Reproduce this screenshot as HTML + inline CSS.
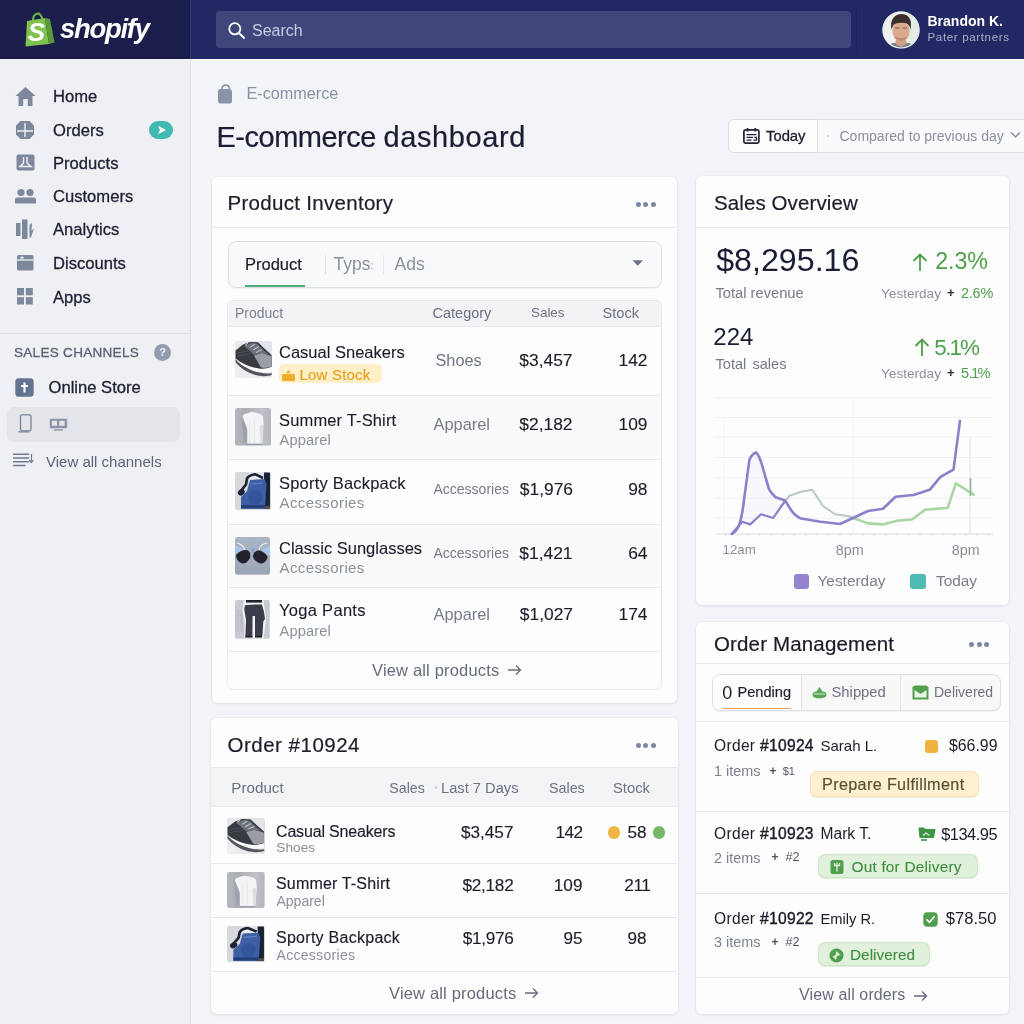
<!DOCTYPE html>
<html><head><meta charset="utf-8">
<style>
*{box-sizing:border-box;margin:0;padding:0}
html,body{width:1024px;height:1024px;overflow:hidden}
body{font-family:"Liberation Sans",sans-serif;background:#f3f4f7;position:relative;color:#1a1c2b}
.a{position:absolute}
.t{position:absolute;white-space:nowrap;line-height:1;transform:translateY(-50%);margin-top:-0.8px}
.m{-webkit-text-stroke:0.3px currentColor}
.r{text-align:right;transform:translate(-100%,-50%)}
.c{transform:translate(-50%,-50%)}
.card{position:absolute;background:#fdfdfd;border-radius:6px;box-shadow:0 0 0 1px rgba(60,66,87,.025),0 1px 3px rgba(60,66,87,.09)}
.hl{position:absolute;height:1px;background:#e9eaee}
.vl{position:absolute;width:1px;background:#e6e7eb}
.nav{font-size:16.6px;color:#1d2033;left:53px;margin-top:0}
.g{color:#8a8f9c}
.dk{color:#1b1d2a;-webkit-text-stroke:0.12px #1b1d2a}
.dot{position:absolute;width:5px;height:5px;border-radius:50%;background:#7d87a0}
.th{position:absolute;width:37px;height:37px;border-radius:3px;overflow:hidden;background:#d9dbdf}
#w{position:absolute;left:0;top:0;width:1024px;height:1024px;will-change:transform;transform:translateZ(0)}
</style></head><body><div id="w">

<!-- TOPBAR -->
<div class="a" style="left:0;top:0;width:1024px;height:59px;background:#212863"></div>
<div class="a" style="left:0;top:0;width:190px;height:59px;background:#1b1e4a"></div>
<div class="a" style="left:190px;top:0;width:1px;height:59px;background:#343a6e"></div>
<div class="a" style="left:216px;top:11px;width:635px;height:37px;border-radius:4px;background:#3f467b"></div>


<!-- logo -->
<svg class="a" style="left:24px;top:11px" width="32" height="37" viewBox="0 0 32 37">
  <path d="M9 9 C9 3 14 1.5 16 3.5 C18 5.5 18.5 8 18.5 10" fill="none" stroke="#6fb848" stroke-width="2"/>
  <path d="M3 10 L21 7 L25 33 L1.5 35.5 Z" fill="#7fc24d"/>
  <path d="M21 7 L26 8 L30.5 31.5 L25 33 Z" fill="#5a9a3a"/>
  <text x="12.3" y="29.8" font-family="Liberation Sans" font-weight="bold" font-style="italic" font-size="26" fill="#fff" text-anchor="middle">S</text>
</svg>
<div class="t" style="left:60px;top:30px;font-size:27.5px;font-weight:bold;font-style:italic;color:#fff;letter-spacing:-1.3px">shopify</div>
<!-- search -->
<svg class="a" style="left:227px;top:21px" width="19" height="19" viewBox="0 0 19 19"><circle cx="7.8" cy="7.8" r="5.6" fill="none" stroke="#fff" stroke-width="1.8"/><path d="M12 12 L17 17" stroke="#fff" stroke-width="1.9" stroke-linecap="round"/></svg>
<div class="t" style="left:252px;top:32px;font-size:16px;color:#c9cde2">Search</div>
<div class="a" style="left:861px;top:6px;width:1px;height:48px;background:#2a3068"></div>
<!-- avatar -->
<svg class="a" style="left:882px;top:11px" width="38" height="38" viewBox="0 0 38 38">
 <defs><clipPath id="av"><circle cx="19" cy="19" r="18.5"/></clipPath></defs>
 <g clip-path="url(#av)" filter="url(#bl)">
  <rect width="38" height="38" fill="#eef1ee"/>
  <rect x="26" y="0" width="12" height="38" fill="#e3ebe4"/>
  <path d="M5 38 C6 32 12 31.5 19 31.5 C26 31.5 32 32 33 38 Z" fill="#74828d"/>
  <path d="M14 28 L24 28 L24.5 33 L19 36 L13.5 33 Z" fill="#cf9f85"/>
  <ellipse cx="19" cy="20" rx="8.6" ry="10.8" fill="#dba98e"/>
  <path d="M9.5 19 C7.5 8 13 3 19.5 3 C26.5 3 30.5 8 28.5 19 C28 15 26.5 12.5 23 12 C18 11.5 13 12 11.5 14 C10.5 15.5 10 17.5 9.5 19 Z" fill="#3a2e2e"/>
  <path d="M13 17 H17.5 M20.5 17 H25" stroke="#7a5a4c" stroke-width="1.2"/>
  <path d="M12.5 25 C14.5 31.5 23.5 31.5 25.5 25 C23 28 15 28 12.5 25Z" fill="#b98b74"/>
 </g>
 <circle cx="19" cy="19" r="18" fill="none" stroke="#e9ecef" stroke-width="1.2"/>
</svg>
<div class="t" style="left:927.5px;top:21.5px;font-size:14px;font-weight:bold;color:#fff">Brandon K.</div>
<div class="t" style="left:927.5px;top:38px;font-size:11.6px;letter-spacing:0.62px;color:#a9aecb">Pater partners</div>

<!-- SIDEBAR -->
<div class="a" style="left:0;top:59px;width:190px;height:965px;background:#eff0f3"></div>
<div class="a" style="left:190px;top:59px;width:1px;height:965px;background:#e3e4e8"></div>


<!-- nav -->
<svg class="a" style="left:15px;top:86px" width="21" height="21" viewBox="0 0 21 21"><path d="M10.5 1 L20.5 10 L17.5 10 L17.5 20 L12.8 20 L12.8 13 L8.2 13 L8.2 20 L3.5 20 L3.5 10 L0.5 10 Z" fill="#7d889d"/></svg>
<div class="t m nav" style="top:96.5px">Home</div>
<svg class="a" style="left:15px;top:120px" width="20" height="20" viewBox="0 0 20 20"><path d="M5.5 1 H14.5 L19 5.5 V14.5 L14.5 19 H5.5 L1 14.5 V5.5 Z" fill="#7d889d"/><path d="M10 3 V17 M2 11 H18" stroke="#eff0f3" stroke-width="1.4"/></svg>
<div class="t m nav" style="top:130.5px">Orders</div>
<div class="a" style="left:149px;top:121px;width:24px;height:18px;border-radius:9px;background:#41b9b0"></div>
<svg class="a" style="left:157px;top:125px" width="10" height="10" viewBox="0 0 10 10"><path d="M1 0.8 L9 5 L1 9.2 L3 5 Z" fill="#fff"/></svg>
<svg class="a" style="left:16px;top:154px" width="19" height="17" viewBox="0 0 19 17"><rect x="0.5" y="0.5" width="18" height="16" rx="2" fill="#7d889d"/><path d="M7.5 3 V9 L4 12.5 H15 L11 9 V3" fill="none" stroke="#eff0f3" stroke-width="1.5"/></svg>
<div class="t m nav" style="top:164px">Products</div>
<svg class="a" style="left:15px;top:188px" width="21" height="16" viewBox="0 0 21 16"><circle cx="6" cy="4.5" r="3.6" fill="#7d889d"/><circle cx="15" cy="4.5" r="3.6" fill="#7d889d"/><path d="M0 15.5 V11.5 Q0 9.5 2 9.5 H19 Q21 9.5 21 11.5 V15.5 Z" fill="#7d889d"/></svg>
<div class="t m nav" style="top:196.8px">Customers</div>
<svg class="a" style="left:16px;top:219px" width="20" height="21" viewBox="0 0 20 21"><rect x="0" y="4" width="4.5" height="13" fill="#7d889d"/><rect x="6" y="0.5" width="5.5" height="19.5" fill="#7d889d"/><path d="M13.5 6 L16 4 L15.5 12 L18 9 L15 18.5 L13.5 18.5 Z" fill="#7d889d"/></svg>
<div class="t m nav" style="top:230px">Analytics</div>
<svg class="a" style="left:17px;top:255px" width="17" height="16" viewBox="0 0 17 16"><rect x="0" y="0" width="16.5" height="15.5" rx="1.5" fill="#7d889d"/><path d="M0 5 H16.5" stroke="#eff0f3" stroke-width="1.3"/><rect x="3.5" y="1.6" width="3" height="2" fill="#eff0f3"/></svg>
<div class="t m nav" style="top:264.2px">Discounts</div>
<svg class="a" style="left:17px;top:288px" width="16" height="17" viewBox="0 0 16 17"><rect x="0" y="0" width="7" height="7.3" fill="#7d889d"/><rect x="8.8" y="0" width="7" height="7.3" fill="#7d889d"/><rect x="0" y="9.2" width="7" height="7.3" fill="#7d889d"/><rect x="8.8" y="9.2" width="7" height="7.3" fill="#7d889d"/></svg>
<div class="t m nav" style="top:298px">Apps</div>
<div class="hl" style="left:0;top:333px;width:190px;background:#dfe1e6"></div>
<div class="t m" style="left:14px;top:353.5px;font-size:13.5px;letter-spacing:0.3px;color:#596176">SALES CHANNELS</div>
<div class="a" style="left:154px;top:344px;width:17px;height:17px;border-radius:50%;background:#939bb0"></div>
<div class="t c" style="left:162.5px;top:352.5px;font-size:11px;font-weight:bold;color:#eff0f3">?</div>
<svg class="a" style="left:15px;top:378px" width="19" height="19" viewBox="0 0 19 19"><rect x="0.3" y="0.3" width="18.4" height="18.4" rx="3.5" fill="#64738f"/><path d="M9.5 4.5 V14.5 M6 8 H13" stroke="#fff" stroke-width="2.2"/></svg>
<div class="t m" style="left:48.5px;top:388.7px;font-size:16.6px;color:#1d2033">Online Store</div>
<div class="a" style="left:7px;top:407px;width:173px;height:35px;border-radius:7px;background:#e4e5e9"></div>
<svg class="a" style="left:18px;top:414px" width="15" height="19" viewBox="0 0 15 19"><rect x="2.5" y="0.8" width="10.5" height="16" rx="1.5" fill="none" stroke="#76829b" stroke-width="1.3"/><path d="M0.8 17.8 H11" stroke="#76829b" stroke-width="1.3" stroke-linecap="round"/></svg>
<svg class="a" style="left:49px;top:418px" width="19" height="13" viewBox="0 0 19 13"><rect x="0.8" y="0.8" width="17.4" height="9.4" rx="1" fill="#8a95ab"/><rect x="3" y="2.8" width="5" height="5" fill="#e4e5e9"/><rect x="10.2" y="2.8" width="5.4" height="5" fill="#e4e5e9"/><path d="M5 12 H14" stroke="#8a95ab" stroke-width="1.4"/></svg>
<svg class="a" style="left:13px;top:453px" width="21" height="14" viewBox="0 0 21 14"><path d="M0.5 1.2 H15.5 M0.5 5 H15.5 M0.5 8.8 H15.5 M0.5 12.6 H12" stroke="#6f7b95" stroke-width="1.5" stroke-linecap="round"/><path d="M18.5 1 V9 M16.3 7 L18.5 9.5 L20.5 7" fill="none" stroke="#6f7b95" stroke-width="1.2"/></svg>
<div class="t" style="left:46px;top:461.5px;font-size:15px;color:#5b6479">View all channels</div>


<svg width="0" height="0" style="position:absolute"><defs>
<filter id="bl" x="-5%" y="-5%" width="110%" height="110%"><feGaussianBlur stdDeviation="0.35"/></filter>
<linearGradient id="gshoe" x1="0" y1="1" x2="1" y2="0"><stop offset="0" stop-color="#efeff1"/><stop offset="1" stop-color="#e1e2e6"/></linearGradient>
<linearGradient id="gtee" x1="0" y1="0" x2="1" y2="0"><stop offset="0" stop-color="#b4b7be"/><stop offset="0.3" stop-color="#a9acb4"/><stop offset="0.75" stop-color="#bfc2c8"/><stop offset="1" stop-color="#b3b6bd"/></linearGradient>
<linearGradient id="gsun" x1="0" y1="0" x2="0" y2="1"><stop offset="0" stop-color="#a9b4c5"/><stop offset="0.6" stop-color="#a3adbd"/><stop offset="1" stop-color="#99a3b3"/></linearGradient>
<symbol id="shoe" preserveAspectRatio="none" viewBox="0 0 37 37"><rect width="37" height="37" fill="url(#gshoe)"/><g filter="url(#bl)">
<path d="M0.5 21 C6 28 14 33 24 34.8 C29 35.6 34 35 36.8 34 L36.8 32.2 C30 33 22 32 14 28 C8 25 3 21 0.5 18Z" fill="#55575d"/>
<path d="M0.5 17.5 C5 24 13 28.5 24 30.8 C29 31.8 34 31 36.8 30 L36.8 27 L20 26 L0.5 13Z" fill="#fbfbfc"/>
<path d="M0.5 9.5 L8 3.5 L15 1 L23 1.2 L30 8 L36.5 14 L36.7 25.5 C33 27.5 28 28 24 27.5 C14 26 6 22 0.5 17.5Z" fill="#383b43"/>
<path d="M19 14.5 L27 12 L36.3 15 L36.6 25.3 C33 27 29 27.4 26 26.6Z" fill="#9a9ea6"/>
<path d="M9 5 L16 2 L22 2.5 L28 9 L34 13.5 L27 12 L19 14 L14 9Z" fill="#6d727c"/>
<path d="M10 4.5 L13 2 M15 6.5 L20 3 M18 9 L24 5.5 M21 11.5 L27 8.5" stroke="#c9ccd3" stroke-width="1"/>
<path d="M2 12 L14 10 M3 15 L16 12.5" stroke="#50535c" stroke-width="0.8"/>
</g></symbol>
<symbol id="tee" preserveAspectRatio="none" viewBox="0 0 36 37.5"><rect width="36" height="37.5" fill="url(#gtee)"/><g filter="url(#bl)">
<path d="M6.5 9 L9 33 L13 36 L13 22Z" fill="#9ea1a9"/>
<path d="M12 35.8 L27.5 35.8 L27.5 36.8 L12 36.8Z" fill="#94979f"/>
<path d="M7.5 8 C8.5 6 12 5 15.5 4.2 Q17 3 18 4.2 C22 4.6 26.5 5.5 28 8.5 L28.5 16 L27.3 35.5 L12.2 35.5 L12.3 22 C11 16 8.5 12 7.5 8Z" fill="#f3f4f6"/>
<path d="M24.5 18 L25.5 35.5 L27.3 35.5 L28.3 16Z" fill="#dcdee2"/>
<path d="M15 12 L14.5 35 M19.5 10 L19.5 35" stroke="#e6e7ea" stroke-width="0.9"/>
</g></symbol>
<symbol id="pack" preserveAspectRatio="none" viewBox="0 0 35.5 38"><rect width="35.5" height="38" fill="#d6d8dc"/><rect x="14" y="0" width="21" height="10" fill="#e3e4e7"/><g filter="url(#bl)">
<rect x="29" y="0.5" width="6" height="36.5" fill="#1a2036"/><rect x="29" y="34" width="6" height="3" fill="#5d4e4d"/>
<path d="M15 8 L29.5 7 L31.5 12 L30 36.6 L6 36.6 L6 25 L12 19Z" fill="#3d60a4"/>
<path d="M14 22 C16 17 26 17 27 24 C28 31 22 34 17 32 C13 30 13 25 14 22Z" fill="#34549a"/>
<path d="M6 33 L30 33 L30 36.6 L6 36.6Z" fill="#243f7c"/>
<path d="M16 12 L28 11" stroke="#5f82c4" stroke-width="1.2"/>
<path d="M16 5.6 L26 6.6" stroke="#f0f1f3" stroke-width="1.4"/>
<path d="M5 20 L11 12.5 L12 6.5 Q14 3 20 2.2 L28 6" fill="none" stroke="#1c2030" stroke-width="2.6" stroke-linejoin="round"/>
<ellipse cx="6.3" cy="20.3" rx="3.6" ry="2.9" transform="rotate(-35 6.3 20.3)" fill="#1c2030"/>
</g></symbol>
<symbol id="sun" preserveAspectRatio="none" viewBox="0 0 35 37.7"><rect width="35" height="37.7" fill="url(#gsun)"/><g filter="url(#bl)">
<path d="M0 8 L8 12 L1 17 L0 17Z" fill="#a6c4ea"/><path d="M35 9 L26 13 L33 18 L35 18Z" fill="#a9c5e9"/>
<path d="M16 12 L20 10 L18 17Z" fill="#7fa3d8"/>
<path d="M1 18 Q6 12.5 12 13 Q16.5 15 15 21 Q12 27 7 26.5 Q1 24 1 18Z" fill="#22242e"/>
<path d="M18 19 Q19 13 25 13.5 Q32 16 32.5 21 Q30 27 25 26.5 Q18.5 24 18 19Z" fill="#22242e"/>
<path d="M2 6 Q7 7.5 9 11 L9.6 13" fill="none" stroke="#f2f3f5" stroke-width="1.1"/>
<path d="M32.5 6 Q26.5 7 24.7 10.5 L24.4 13" fill="none" stroke="#f2f3f5" stroke-width="1.1"/>
</g></symbol>
<symbol id="yoga" preserveAspectRatio="none" viewBox="0 0 34.6 38.5"><rect width="34.6" height="38.5" fill="#c8cbd1"/><rect x="0" y="10" width="8" height="22" fill="#c0c3ca"/><g filter="url(#bl)">
<path d="M9 0 L28.5 0 L30 12 L31 20 L28.5 38.5 L9.5 38.5 L9.5 22 L7.5 10Z" fill="#f3f4f6"/>
<path d="M5 14 L7 19 L6 22 L8 26" fill="none" stroke="#aeb2ba" stroke-width="0.9"/>
<rect x="11" y="0" width="16" height="2.6" fill="#1f2129"/>
<path d="M10 5.2 Q18 4 27 4.6 L29 12 L30 19 L28.3 21.5 L27.4 36 L26.8 37.6 L20 37.6 L20 16 L17.6 16 L17.4 37.6 L10.4 37.6 L11 20 L9.2 9Z" fill="#3a3d4b"/>
<path d="M10.3 36.5 H17.4 M20 36.5 H26.9" stroke="#1f2129" stroke-width="1.6"/>
</g></symbol>
</defs></svg>

<!-- breadcrumb & title -->
<svg class="a" style="left:217px;top:84px" width="16" height="20" viewBox="0 0 16 20"><path d="M5 5 C5 -0.2 12.5 -0.2 12.5 5" fill="none" stroke="#8a94a8" stroke-width="1.6"/><path d="M1 7.5 Q1 5 3.5 5 H12 Q15 5 15 8 V17 Q15 19.5 12.5 19.5 H3.5 Q1 19.5 1 17Z" fill="#8a94a8"/></svg>
<div class="t" style="left:246.5px;top:93.5px;font-size:16.2px;color:#8891a4">E-commerce</div>
<div class="t" style="left:216.5px;top:138px;font-size:29px;color:#1a1d33;-webkit-text-stroke:0.2px #1a1d33"><span style="letter-spacing:-0.5px">E-commerce </span><span style="letter-spacing:0.62px">dashboard</span></div>
<!-- today -->
<div class="a" style="left:728px;top:119px;width:90px;height:34px;background:#fdfdfd;border:1px solid #d9dbe1;border-radius:6px 0 0 6px"></div>
<div class="a" style="left:817px;top:119px;width:215px;height:34px;background:#f9fafb;border:1px solid #e1e3e8"></div>
<svg class="a" style="left:743px;top:128px" width="17" height="16" viewBox="0 0 17 16"><rect x="0.9" y="1.9" width="15" height="13.2" rx="1.6" fill="none" stroke="#22253a" stroke-width="1.7"/><path d="M4.5 0 V3.5 M12.3 0 V3.5" stroke="#22253a" stroke-width="1.7"/><path d="M3.5 6.6 H13.5 M3.5 9.4 H10 M3.5 12.2 H8.5 M11.3 9.4 H13.5 V12.2 H10.5" fill="none" stroke="#22253a" stroke-width="1.3"/></svg>
<div class="t" style="left:766px;top:137px;font-size:14.8px;color:#1b1d2e;-webkit-text-stroke:0.3px #1b1d2e">Today</div>
<div class="a" style="left:827px;top:135px;width:2px;height:2px;border-radius:50%;background:#c9ccd5"></div>
<div class="t" style="left:839.5px;top:137px;font-size:14px;color:#8a90a1">Compared to previous day</div>
<svg class="a" style="left:1010px;top:131px" width="11" height="8" viewBox="0 0 11 8"><path d="M1.2 1.5 L5.5 6 L9.8 1.5" fill="none" stroke="#8a90a1" stroke-width="1.5"/></svg>

<!-- PRODUCT INVENTORY -->
<div class="card" style="left:212px;top:177px;width:465px;height:526px"></div>
<div class="t" style="left:227.5px;top:203.5px;font-size:20.5px;letter-spacing:0.3px;color:#1b1d2a;-webkit-text-stroke:0.2px #1b1d2a">Product Inventory</div>
<div class="dot" style="left:635.5px;top:201.5px"></div><div class="dot" style="left:643px;top:201.5px"></div><div class="dot" style="left:650.5px;top:201.5px"></div>
<div class="hl" style="left:212px;top:226.5px;width:465px"></div>
<div class="a" style="left:227.5px;top:240.5px;width:434.5px;height:47.5px;border:1px solid #dcdee3;border-radius:8px;background:#f8f9fa;box-shadow:0 1px 1px rgba(0,0,0,.04)"></div>
<div class="t" style="left:245px;top:264.8px;font-size:16.5px;color:#1b1d2a;-webkit-text-stroke:0.2px">Product</div>
<div class="a" style="left:244.5px;top:285px;width:60px;height:2px;background:#4dae7c"></div>
<div class="vl" style="left:324.5px;top:255px;height:19px;background:#dfe1e6"></div>
<div class="t" style="left:333.5px;top:265.6px;font-size:17.5px;color:#8b91a1">Typs<span style="font-size:10px;position:relative;top:-1px">:</span></div>
<div class="vl" style="left:383px;top:255px;height:19px;background:#e6e8ec"></div>
<div class="t" style="left:394.5px;top:266px;font-size:17.5px;color:#8b91a1">Ads</div>
<svg class="a" style="left:632px;top:260px" width="12" height="6" viewBox="0 0 12 6"><path d="M0.5 0.3 H11 L5.75 5.8Z" fill="#68728b"/></svg>
<!-- table -->
<div class="a" style="left:226.5px;top:300px;width:435.5px;height:390px;border:1px solid #e8e9ed;border-radius:6px;background:#fdfdfd;overflow:hidden">
  <div class="a" style="left:0;top:0;width:100%;height:25.5px;background:#f2f3f5"></div>
  <div class="a" style="left:0;top:94.5px;width:100%;height:64px;background:#fafafb"></div>
  <div class="a" style="left:0;top:222.5px;width:100%;height:64px;background:#fafafb"></div>
</div>
<div class="t" style="left:235px;top:313.5px;font-size:14px;color:#7c8291">Product</div>
<div class="t" style="left:432.5px;top:313.5px;font-size:14.5px;color:#6c7282">Category</div>
<div class="t" style="left:531px;top:313.5px;font-size:13.4px;color:#6c7282">Sales</div>
<div class="t" style="left:602.5px;top:313.5px;font-size:14.6px;color:#6c7282">Stock</div>
<div class="hl" style="left:227px;top:326px;width:434px"></div>
<div class="hl" style="left:227px;top:395px;width:434px"></div>
<div class="hl" style="left:227px;top:459px;width:434px"></div>
<div class="hl" style="left:227px;top:523.5px;width:434px"></div>
<div class="hl" style="left:227px;top:587px;width:434px"></div>
<div class="hl" style="left:227px;top:650.5px;width:434px"></div>
<!-- row1 -->
<svg class="th" style="left:235px;top:341.2px;width:37px;height:37px"><use href="#shoe"/></svg>
<div class="t" style="left:279px;top:352.3px;font-size:16.5px;-webkit-text-stroke:0.1px" >Casual Sneakers</div>
<div class="a" style="left:278.5px;top:364px;width:103px;height:19px;border-radius:5px;background:#fdf0c9"></div>
<svg class="a" style="left:282px;top:369px" width="13" height="12" viewBox="0 0 13 12"><rect x="0" y="5" width="13" height="7" rx="1.3" fill="#efac2f"/><path d="M4 4 L6.5 1 L9 4Z" fill="#efac2f"/></svg>
<div class="t" style="left:299.5px;top:375px;font-size:15px;letter-spacing:0.2px;color:#e7a321;-webkit-text-stroke:0.2px #e7a321">Low Stock</div>
<div class="t g" style="left:435.5px;top:361px;font-size:16.3px;color:#6e7483">Shoes</div>
<div class="t r dk" style="left:572.5px;top:361.6px;font-size:17.4px">$3,457</div>
<div class="t r dk" style="left:647.5px;top:361.6px;font-size:17.4px">142</div>
<!-- row2 -->
<svg class="th" style="left:235px;top:408px;width:36px;height:37.5px"><use href="#tee"/></svg>
<div class="t" style="left:279px;top:420.3px;font-size:16.5px;letter-spacing:0.15px;-webkit-text-stroke:0.1px">Summer T-Shirt</div>
<div class="t g" style="left:279.5px;top:440.5px;font-size:14.6px;letter-spacing:0.15px">Apparel</div>
<div class="t g" style="left:433.5px;top:424.5px;font-size:16.4px;color:#757b8a">Apparel</div>
<div class="t r dk" style="left:572.5px;top:426.1px;font-size:17.4px">$2,182</div>
<div class="t r dk" style="left:647.5px;top:426.1px;font-size:17.4px">109</div>
<!-- row3 -->
<svg class="th" style="left:235px;top:472px;width:35.5px;height:38px"><use href="#pack"/></svg>
<div class="t" style="left:279px;top:483.5px;font-size:16.5px;letter-spacing:0.2px;-webkit-text-stroke:0.1px">Sporty Backpack</div>
<div class="t g" style="left:279.5px;top:502.3px;font-size:15px;letter-spacing:0.4px">Accessories</div>
<div class="t g" style="left:433.5px;top:490.2px;font-size:14px;color:#757b8a">Accessories</div>
<div class="t r dk" style="left:573px;top:490.6px;font-size:17.4px">$1,976</div>
<div class="t r dk" style="left:647.5px;top:490.6px;font-size:17.4px">98</div>
<!-- row4 -->
<svg class="th" style="left:235px;top:537px;width:35px;height:37.7px"><use href="#sun"/></svg>
<div class="t" style="left:279px;top:548.3px;font-size:16.5px;-webkit-text-stroke:0.1px">Classic Sunglasses</div>
<div class="t g" style="left:279.5px;top:567.3px;font-size:15px;letter-spacing:0.4px">Accessories</div>
<div class="t g" style="left:433.5px;top:554px;font-size:14px;color:#757b8a">Accessories</div>
<div class="t r dk" style="left:572.5px;top:554.6px;font-size:17.4px">$1,421</div>
<div class="t r dk" style="left:647.5px;top:554.6px;font-size:17.4px">64</div>
<!-- row5 -->
<svg class="th" style="left:235px;top:600px;width:34.6px;height:38.5px"><use href="#yoga"/></svg>
<div class="t" style="left:279px;top:610.5px;font-size:16.5px;letter-spacing:0.3px;-webkit-text-stroke:0.1px">Yoga Pants</div>
<div class="t g" style="left:279.5px;top:632px;font-size:14.6px;letter-spacing:0.15px">Apparel</div>
<div class="t g" style="left:433.5px;top:615px;font-size:16.4px;color:#757b8a">Apparel</div>
<div class="t r dk" style="left:573px;top:616.1px;font-size:17.4px">$1,027</div>
<div class="t r dk" style="left:647.5px;top:616.1px;font-size:17.4px">174</div>
<div class="t" style="left:372px;top:670.3px;font-size:16.5px;letter-spacing:0.17px;color:#656b7b">View all products</div>
<svg class="a" style="left:507px;top:664px" width="15" height="12" viewBox="0 0 15 12"><path d="M1 6 H13.5 M9 1.5 L13.5 6 L9 10.5" fill="none" stroke="#656b7b" stroke-width="1.3"/></svg>


<!-- ORDER CARD -->
<div class="card" style="left:211px;top:718px;width:466.5px;height:296px;overflow:hidden">
  <div class="a" style="left:0;top:49px;width:100%;height:39.5px;background:#f3f4f6"></div>
</div>
<div class="t" style="left:227.5px;top:745.8px;font-size:20.5px;letter-spacing:0.5px;color:#1b1d2a;-webkit-text-stroke:0.2px #1b1d2a">Order #10924</div>
<div class="dot" style="left:635.5px;top:742.5px"></div><div class="dot" style="left:643px;top:742.5px"></div><div class="dot" style="left:650.5px;top:742.5px"></div>
<div class="hl" style="left:211px;top:767px;width:466px"></div>
<div class="hl" style="left:211px;top:806px;width:466px"></div>
<div class="t" style="left:231.3px;top:788.8px;font-size:15.2px;color:#6c7282">Product</div>
<div class="t" style="left:389.3px;top:788.8px;font-size:14.2px;color:#6c7282">Sales</div>
<div class="a" style="left:435px;top:786px;width:1.5px;height:3px;border-radius:50%;background:#c9ccd5"></div>
<div class="t" style="left:441px;top:788.8px;font-size:14.7px;color:#6c7282">Last 7 Days</div>
<div class="t" style="left:549px;top:788.8px;font-size:14.3px;color:#6c7282">Sales</div>
<div class="t" style="left:613px;top:788.8px;font-size:14.8px;color:#6c7282">Stock</div>
<svg class="th" style="left:227px;top:818px;width:37.5px;height:36px"><use href="#shoe"/></svg>
<div class="t" style="left:276px;top:832.6px;font-size:16px;letter-spacing:-0.17px;-webkit-text-stroke:0.15px">Casual Sneakers</div>
<div class="t g" style="left:276.3px;top:848.8px;font-size:13.7px">Shoes</div>
<div class="t r dk" style="left:513.5px;top:833.5px;font-size:17.2px">$3,457</div>
<div class="t r dk" style="left:582.5px;top:833.5px;font-size:17.2px;letter-spacing:-0.6px">142</div>
<div class="a" style="left:607.5px;top:826.2px;width:12.8px;height:12.8px;border-radius:50%;background:#f0b445"></div>
<div class="t dk" style="left:627.5px;top:833.5px;font-size:17.2px">58</div>
<div class="a" style="left:652.5px;top:826.2px;width:12.8px;height:12.8px;border-radius:50%;background:#74b868"></div>
<div class="hl" style="left:211px;top:862.5px;width:466px"></div>
<svg class="th" style="left:227px;top:872px;width:37.5px;height:36px"><use href="#tee"/></svg>
<div class="t" style="left:276px;top:884.3px;font-size:16px;letter-spacing:0.17px;-webkit-text-stroke:0.15px">Summer T-Shirt</div>
<div class="t g" style="left:276.5px;top:902.1px;font-size:14px">Apparel</div>
<div class="t r dk" style="left:513.5px;top:887.0px;font-size:17.2px;letter-spacing:-0.25px">$2,182</div>
<div class="t r dk" style="left:582.5px;top:887.0px;font-size:17.2px">109</div>
<div class="t r dk" style="left:650.5px;top:887.0px;font-size:17.2px;letter-spacing:-0.4px">211</div>
<div class="hl" style="left:211px;top:917px;width:466px"></div>
<svg class="th" style="left:227px;top:926px;width:37.5px;height:36px"><use href="#pack"/></svg>
<div class="t" style="left:276px;top:938.6px;font-size:16px;letter-spacing:0.27px;-webkit-text-stroke:0.15px">Sporty Backpack</div>
<div class="t g" style="left:276.5px;top:956.2px;font-size:14px;letter-spacing:0.3px">Accessories</div>
<div class="t r dk" style="left:513.5px;top:940.2px;font-size:17.2px;letter-spacing:-0.3px">$1,976</div>
<div class="t r dk" style="left:582.5px;top:940.2px;font-size:17.2px">95</div>
<div class="t r dk" style="left:646.5px;top:940.2px;font-size:17.2px">98</div>
<div class="hl" style="left:211px;top:971px;width:466px"></div>
<div class="t" style="left:389px;top:993.6px;font-size:16.5px;letter-spacing:0.17px;color:#656b7b">View all products</div>
<svg class="a" style="left:524px;top:987px" width="15" height="12" viewBox="0 0 15 12"><path d="M1 6 H13.5 M9 1.5 L13.5 6 L9 10.5" fill="none" stroke="#656b7b" stroke-width="1.3"/></svg>

<!-- SALES OVERVIEW -->
<div class="card" style="left:696px;top:176px;width:313px;height:429px"></div>
<div class="t" style="left:714px;top:203.5px;font-size:20.5px;letter-spacing:0.1px;color:#1b1d2a;-webkit-text-stroke:0.2px #1b1d2a">Sales Overview</div>
<div class="hl" style="left:696px;top:226.5px;width:313px"></div>
<div class="t" style="left:716.2px;top:261px;font-size:32.2px;color:#1a1d33">$8,295.16</div>
<div class="t" style="left:715.5px;top:293.3px;font-size:14.7px;color:#757b8a">Total revenue</div>
<svg class="a" style="left:912px;top:252.5px" width="16" height="19" viewBox="0 0 16 19"><path d="M8 18 V2 M1.5 8 L8 1.5 L14.5 8" fill="none" stroke="#4fa04b" stroke-width="1.8"/></svg>
<div class="t r" style="left:988px;top:263px;font-size:23.2px;color:#4fa04b">2.3%</div>
<div class="t" style="left:881px;top:294.3px;font-size:13.6px;color:#8a8f9c">Yesterday</div>
<div class="t" style="left:947px;top:292.5px;font-size:13px;color:#2a2d3c;font-weight:bold">+</div>
<div class="t r" style="left:993px;top:293.5px;font-size:14.4px;letter-spacing:-0.2px;color:#4fa04b">2.6%</div>
<div class="t" style="left:713.3px;top:337.3px;font-size:24px;color:#1a1d33">224</div>
<div class="t" style="left:715.5px;top:365.2px;font-size:14.6px;color:#757b8a;word-spacing:2px">Total sales</div>
<svg class="a" style="left:914px;top:338px" width="16" height="19" viewBox="0 0 16 19"><path d="M8 18 V2 M1.5 8 L8 1.5 L14.5 8" fill="none" stroke="#4fa04b" stroke-width="1.8"/></svg>
<div class="t r" style="left:978.7px;top:348.3px;font-size:22.5px;letter-spacing:-1.4px;color:#4fa04b">5<span style="letter-spacing:-2px">.1</span>%</div>
<div class="t" style="left:881px;top:374.5px;font-size:13.6px;color:#8a8f9c">Yesterday</div>
<div class="t" style="left:947px;top:373px;font-size:13px;color:#2a2d3c;font-weight:bold">+</div>
<div class="t r" style="left:990px;top:374px;font-size:14.6px;letter-spacing:-0.6px;color:#4fa04b">5<span style="letter-spacing:-1.6px">.1</span>%</div>
<!-- chart -->
<svg class="a" style="left:696px;top:390px" width="313" height="215" viewBox="696 390 313 215">
 <g stroke="#eeeff2" stroke-width="0.9">
  <path d="M714 398 H993 M714 417.5 H993 M714 437 H993 M714 457.5 H993 M714 478 H993 M714 498 H993 M714 518 H993"/>
  <path d="M853 398 V534 M724 417.5 V534" stroke="#f0f1f3"/>
 </g>
 <path d="M970 437 V534" stroke="#dfe1e5" stroke-width="1"/>
 <path d="M716 534 H993" stroke="#d9dbe0" stroke-width="1.2"/><path d="M725.4 534 V536.5 M736.9 534 V536.5 M748.3 534 V536.5 M759.8 534 V536.5 M771.2 534 V536.5 M782.6 534 V536.5 M794.1 534 V536.5 M805.5 534 V536.5 M817.0 534 V536.5 M828.4 534 V536.5 M839.9 534 V536.5 M851.3 534 V536.5 M862.8 534 V536.5 M874.2 534 V536.5 M885.7 534 V536.5 M897.1 534 V536.5 M908.6 534 V536.5 M920.0 534 V536.5 M931.5 534 V536.5 M942.9 534 V536.5 M954.4 534 V536.5 M965.8 534 V536.5 M977.3 534 V536.5 M988.8 534 V536.5" stroke="#d9dbe0" stroke-width="0.8"/>
 <path d="M773 518 L789.5 495.7 L801 491.8 L812.3 489.8 L823 506 L835 514.3 L848 516 L853 518" fill="none" stroke="#b9c7c8" stroke-width="2" stroke-linejoin="round"/>
 <path d="M853 518 L868 523.4 L883 524.4 L897 520.8 L912 519.5 L925 509.7 L947.7 507.8 L955.8 483.3 L973.8 494.7" fill="none" stroke="#a9d6a3" stroke-width="2.6" stroke-linejoin="round" stroke-linecap="round"/>
 <path d="M731.7 534 L742.2 521.8 L750.3 524.4 L761 514.3 L773.2 518 L785.2 500.6" fill="none" stroke="#8f7fcb" stroke-width="2.2" stroke-linejoin="round"/>
 <path d="M731.7 534 Q737 531 739.5 524 Q742.5 514 744 500 L749.4 459.8 Q752 454 756.2 452.6 Q759 455 762.4 466.3 L769 489.2 Q771 493 775.5 497.3 L785.2 500.6 L791 510 Q795 516 801 518.5 L820.5 521.8 L840 524 L853 518 L868 511 L883 508.7 L895.5 496.7 L913.4 495 L929.7 489.8 L940.5 476.8 L953.5 469.6 L960 420.7" fill="none" stroke="#8f7fcb" stroke-width="2.6" stroke-linejoin="round" stroke-linecap="round"/>
 <path d="M731.7 534 L739 528 L743.8 508.7 L749.4 459.8 L756.2 452.6 L762.4 466.3 L769 489.2 L775.5 497.3 L785.2 500.6 L773.2 518 L761 514.3 L750.3 524.4 L742.2 521.8Z" fill="#8f7fcb" opacity="0.045"/>
 <path d="M970.5 478 V496" stroke="#8fb49a" stroke-width="1.6"/>
</svg>
<div class="t" style="left:722.5px;top:551px;font-size:13.3px;color:#8a8f9c">12am</div>
<div class="t" style="left:835.8px;top:551px;font-size:14.3px;color:#8a8f9c">8pm</div>
<div class="t" style="left:951.8px;top:551px;font-size:14.3px;color:#8a8f9c">8pm</div>
<div class="a" style="left:793.5px;top:574px;width:15.5px;height:14.5px;border-radius:3px;background:#9584cf"></div>
<div class="t" style="left:817.5px;top:581.5px;font-size:15.4px;color:#7a808e">Yesterday</div>
<div class="a" style="left:910px;top:574px;width:15.5px;height:14.5px;border-radius:3px;background:#4dbbb3"></div>
<div class="t" style="left:936px;top:581.5px;font-size:15.4px;color:#7a808e">Today</div>

<!-- ORDER MANAGEMENT -->
<div class="card" style="left:696px;top:621.5px;width:313px;height:392px"></div>
<div class="t" style="left:714px;top:644.8px;font-size:20.5px;letter-spacing:0.15px;color:#1b1d2a;-webkit-text-stroke:0.2px #1b1d2a">Order Management</div>
<div class="dot" style="left:969px;top:642px"></div><div class="dot" style="left:976.5px;top:642px"></div><div class="dot" style="left:984px;top:642px"></div>
<div class="hl" style="left:696px;top:663px;width:313px"></div>
<div class="a" style="left:711.5px;top:674px;width:289px;height:36.5px;border:1px solid #dfe1e6;border-radius:8px;background:#f8f8f9;overflow:hidden;box-shadow:0 1px 1px rgba(0,0,0,.05)">
  <div class="a" style="left:0;top:0;width:89px;height:100%;background:#fdfdfd"></div>
  <div class="a" style="left:10px;top:33.3px;width:68px;height:1.2px;background:#eba35c"></div>
</div>
<div class="vl" style="left:801px;top:675px;height:35px;background:#e3e5e9"></div>
<div class="vl" style="left:899.5px;top:675px;height:35px;background:#e3e5e9"></div>
<div class="t" style="left:722.3px;top:693.6px;font-size:18px;color:#1b1d2a">0</div>
<div class="t" style="left:737.5px;top:692.5px;font-size:14.6px;color:#1b1d2a;-webkit-text-stroke:0.15px">Pending</div>
<svg class="a" style="left:812px;top:686px" width="15" height="13" viewBox="0 0 15 13"><path d="M0.5 9 C0.5 6 3 5.5 4.5 5.5 L7.5 1 L10.5 5.5 C12 5.5 14.5 6 14.5 9 C14.5 11.5 11 12.3 7.5 12.3 C4 12.3 0.5 11.5 0.5 9Z" fill="#5aa653"/><path d="M2 8 H13" stroke="#d7ead4" stroke-width="1"/></svg>
<div class="t" style="left:831.5px;top:692.5px;font-size:14.8px;color:#6c7282">Shipped</div>
<svg class="a" style="left:911.5px;top:685px" width="17" height="15" viewBox="0 0 17 15"><path d="M0.5 2 L3 0.5 H14 L16.5 2 V14.5 H0.5Z" fill="#4f9f4c"/><path d="M2.5 5 L8.5 9 L14.5 5 V12.5 H2.5Z" fill="#e8f3e6"/></svg>
<div class="t" style="left:934px;top:692.8px;font-size:14px;color:#6c7282">Delivered</div>
<div class="hl" style="left:696px;top:721px;width:313px"></div>
<!-- o1 -->
<div class="t" style="left:714px;top:747.2px;font-size:15.6px;letter-spacing:0.3px;color:#1b1d2a">Order <span style="-webkit-text-stroke:0.4px">#10924</span></div>
<div class="t" style="left:820.5px;top:746.2px;font-size:15px;color:#1b1d2a">Sarah L.</div>
<div class="a" style="left:924.5px;top:739.5px;width:13.5px;height:13.5px;border-radius:3px;background:#efb341"></div>
<div class="t r" style="left:997.5px;top:747.2px;font-size:15.9px;color:#1b1d2a">$66.99</div>
<div class="t" style="left:714px;top:772px;font-size:14.4px;color:#7a808e">1 items</div>
<div class="t" style="left:769.5px;top:771.3px;font-size:11px;color:#4d5262"><b style="font-size:12px">+</b>&nbsp; $1</div>
<div class="a" style="left:809.5px;top:770.5px;width:169px;height:26px;border-radius:7px;background:#fdf1cf;box-shadow:inset 0 0 0 1px rgba(220,180,90,.18),0 1px 1px rgba(180,140,40,.15)"></div>
<div class="t" style="left:822px;top:784.7px;font-size:16.2px;letter-spacing:0.35px;color:#5a5236;-webkit-text-stroke:0.2px">Prepare Fulfillment</div>
<div class="hl" style="left:696px;top:811px;width:313px"></div>
<!-- o2 -->
<div class="t" style="left:714px;top:835.2px;font-size:15.6px;letter-spacing:0.3px;color:#1b1d2a">Order <span style="-webkit-text-stroke:0.4px">#10923</span></div>
<div class="t" style="left:820.5px;top:835.2px;font-size:15.6px;color:#1b1d2a">Mark T.</div>
<svg class="a" style="left:917.5px;top:827px" width="18" height="14" viewBox="0 0 18 14"><path d="M0.5 0.5 H6 L7.5 2 H17.5 L16 11 H1.5Z" fill="#3f9345"/><path d="M3 13 H9" stroke="#3f9345" stroke-width="1.6"/><path d="M5 8.5 L8 6 L11.5 8.5" fill="none" stroke="#d9ecd8" stroke-width="1.1"/></svg>
<div class="t r" style="left:997px;top:835.2px;font-size:16.4px;letter-spacing:-0.5px;color:#1b1d2a">$134.95</div>
<div class="t" style="left:714px;top:858.3px;font-size:14.4px;color:#7a808e">2 items</div>
<div class="t" style="left:771.5px;top:857.8px;font-size:12.6px;color:#4d5262"><b style="font-size:12px">+</b>&nbsp; #2</div>
<div class="a" style="left:817.5px;top:854px;width:160px;height:24px;border-radius:7px;background:#e1f0db;box-shadow:inset 0 0 0 1px rgba(120,180,110,.18),0 1px 1px rgba(60,140,60,.14)"></div>
<svg class="a" style="left:829.5px;top:860px" width="14" height="14" viewBox="0 0 14 14"><rect x="0.5" y="0" width="13" height="14" rx="2.5" fill="#4f9f4c"/><path d="M7 2.5 V11.5 M4 5.5 H10 M4.5 3 V5.5 M9.5 3 V5.5" stroke="#e3f2e0" stroke-width="1.3" fill="none"/></svg>
<div class="t" style="left:851.5px;top:867.5px;font-size:15.4px;letter-spacing:0.2px;color:#3f8f42;-webkit-text-stroke:0.12px #3f8f42">Out for Delivery</div>
<div class="hl" style="left:696px;top:893px;width:313px"></div>
<!-- o3 -->
<div class="t" style="left:714px;top:920px;font-size:15.6px;letter-spacing:0.3px;color:#1b1d2a">Order <span style="-webkit-text-stroke:0.4px">#10922</span></div>
<div class="t" style="left:820.5px;top:920px;font-size:14.7px;color:#1b1d2a">Emily R.</div>
<svg class="a" style="left:923px;top:911.5px" width="15" height="15" viewBox="0 0 15 15"><rect x="0.3" y="0.3" width="14.4" height="14.4" rx="4" fill="#4f9f4c"/><path d="M4 7.8 L6.6 10.3 L11.2 4.8" fill="none" stroke="#fff" stroke-width="1.7" stroke-linecap="round" stroke-linejoin="round"/></svg>
<div class="t r" style="left:996.5px;top:919.5px;font-size:16.6px;color:#1b1d2a">$78.50</div>
<div class="t" style="left:714px;top:943px;font-size:14.4px;color:#7a808e">3 items</div>
<div class="t" style="left:771.5px;top:943px;font-size:12.6px;color:#4d5262"><b style="font-size:12px">+</b>&nbsp; #2</div>
<div class="a" style="left:817.5px;top:941.7px;width:112.5px;height:24px;border-radius:7px;background:#e1f0db;box-shadow:inset 0 0 0 1px rgba(120,180,110,.18),0 1px 1px rgba(60,140,60,.14)"></div>
<svg class="a" style="left:828.5px;top:948px" width="15" height="15" viewBox="0 0 15 15"><circle cx="7.5" cy="7.5" r="7" fill="#4f9f4c"/><path d="M7.5 3 L11.5 7 L8 8 L7 12 L3.5 8.5 L6.5 7Z" fill="#dff0d8"/></svg>
<div class="t" style="left:850px;top:955.8px;font-size:15.3px;letter-spacing:0.05px;color:#3f8f42;-webkit-text-stroke:0.12px #3f8f42">Delivered</div>
<div class="hl" style="left:696px;top:977px;width:313px"></div>
<div class="t" style="left:799px;top:996.2px;font-size:16px;letter-spacing:0.12px;color:#656b7b">View all orders</div>
<svg class="a" style="left:913px;top:989.5px" width="15" height="12" viewBox="0 0 15 12"><path d="M1 6 H13.5 M9 1.5 L13.5 6 L9 10.5" fill="none" stroke="#656b7b" stroke-width="1.3"/></svg>

</div></body></html>
